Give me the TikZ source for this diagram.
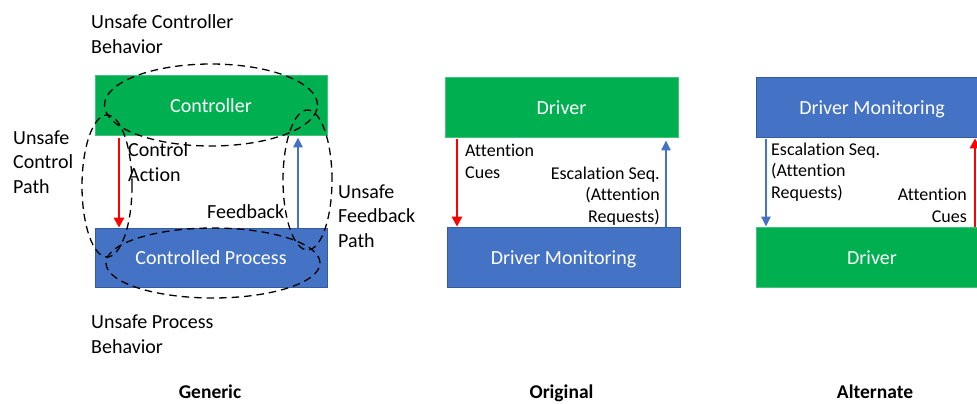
\documentclass[tikz,border=0pt]{standalone}
\usepackage{fontspec}
\setmainfont{Carlito}[Ligatures=NoCommon]
\usetikzlibrary{arrows.meta}
\definecolor{boxgreen}{HTML}{00B050}
\definecolor{boxblue}{HTML}{4472C4}
\definecolor{arrred}{HTML}{FF0000}
\begin{document}
\begin{tikzpicture}[x=1pt,y=-1pt,
  box/.style={rectangle, inner sep=0pt, minimum width=232pt, minimum height=60pt,
    text=white, font=\fontsize{20}{24}\selectfont, text height=14pt, text depth=0pt},
  gbox/.style={box, fill=boxgreen, draw=boxgreen!75!white, line width=0.7pt},
  bbox/.style={box, fill=boxblue, draw=boxblue!80!black, line width=0.7pt},
  lbl/.style={inner sep=0pt, align=left, font=\fontsize{20}{24.5}\selectfont},
  sl/.style={inner sep=0pt, align=left, font=\fontsize{18}{21.5}\selectfont},
  ttl/.style={inner sep=0pt, anchor=base, font=\bfseries\fontsize{19.5}{22}\selectfont},
  redarr/.style={draw=arrred, line width=2.7pt, -{Triangle[length=10pt,width=10pt]}},
  bluearr/.style={draw=boxblue, line width=2.5pt, -{Triangle[length=10pt,width=9pt]}},
  dsh/.style={draw=black, line width=1.3pt, dash pattern=on 7.5pt off 5pt}]
\useasboundingbox (0,0) rectangle (977,404);
\clip (0,0) rectangle (977,404);

% ---------- Generic ----------
% (multi-line labels are placed by the baseline of their last line)
\node[gbox] (ctrl) at (211,105) {Controller};
\node[bbox, minimum height=59pt] (proc) at (211,257.5) {Controlled Process};
\coordinate (gx1) at (119,0);
\coordinate (gx2) at (298,0);
\draw[redarr, shorten <=3pt] (ctrl.south -| gx1) -- (proc.north -| gx1);
\draw[bluearr, shorten >=2pt] (proc.north -| gx2) -- (ctrl.south -| gx2);

\draw[dsh] (211,105) ellipse [x radius=106.5pt, y radius=41pt];
\draw[dsh] (213,263) ellipse [x radius=107pt, y radius=35pt];
\draw[dsh] (107,186) ellipse [x radius=25pt, y radius=71pt];
\draw[dsh] (307.5,180) ellipse [x radius=24.5pt, y radius=70pt];

\node[lbl, anchor=base west] (ucb) at (91,53) {Unsafe Controller\\Behavior};
\node[lbl, anchor=base west] (ucp) at (13,193) {Unsafe\\Control\\Path};
\node[lbl, anchor=base west] (cact) at (128,181) {Control\\Action};
\node[lbl, anchor=base west] (fb) at (207,218) {Feedback};
\node[lbl, anchor=base west] (ufp) at (338,247) {Unsafe\\Feedback\\Path};
\node[lbl, anchor=base west] (upb) at (91,353) {Unsafe Process\\Behavior};
\node[ttl] (tg) at (210,398) {Generic};

% ---------- Original ----------
\node[gbox, minimum width=233pt] (drvA) at (561.5,107) {Driver};
\node[bbox, minimum width=233pt] (dmA) at (563.5,257) {Driver Monitoring};
\coordinate (ox1) at (457,0);
\coordinate (ox2) at (666,0);
\draw[redarr, shorten <=2pt] (drvA.south -| ox1) -- (dmA.north -| ox1);
\draw[bluearr, shorten >=3pt] (dmA.north -| ox2) -- (drvA.south -| ox2);
\node[sl, anchor=base west] (acA) at (465,178) {Attention\\Cues};
\node[sl, anchor=base east, align=right] (esA) at (660,222) {Escalation Seq.\\(Attention\\Requests)};
\node[ttl] (to) at (561.5,398) {Original};

% ---------- Alternate ----------
\node[bbox] (dmB) at (872,107) {Driver Monitoring};
\node[gbox] (drvB) at (872,257) {Driver};
\coordinate (ax1) at (766,0);
\coordinate (ax2) at (975,0);
\draw[bluearr, shorten <=2pt] (dmB.south -| ax1) -- (drvB.north -| ax1);
\draw[redarr, shorten >=1pt] (drvB.north -| ax2) -- (dmB.south -| ax2);
\node[sl, anchor=base west] (esB) at (771,198) {Escalation Seq.\\(Attention\\Requests)};
\node[sl, anchor=base east, align=right] (acB) at (967,222) {Attention\\Cues};
\node[ttl] (ta) at (875,398) {Alternate};
\end{tikzpicture}
\end{document}
